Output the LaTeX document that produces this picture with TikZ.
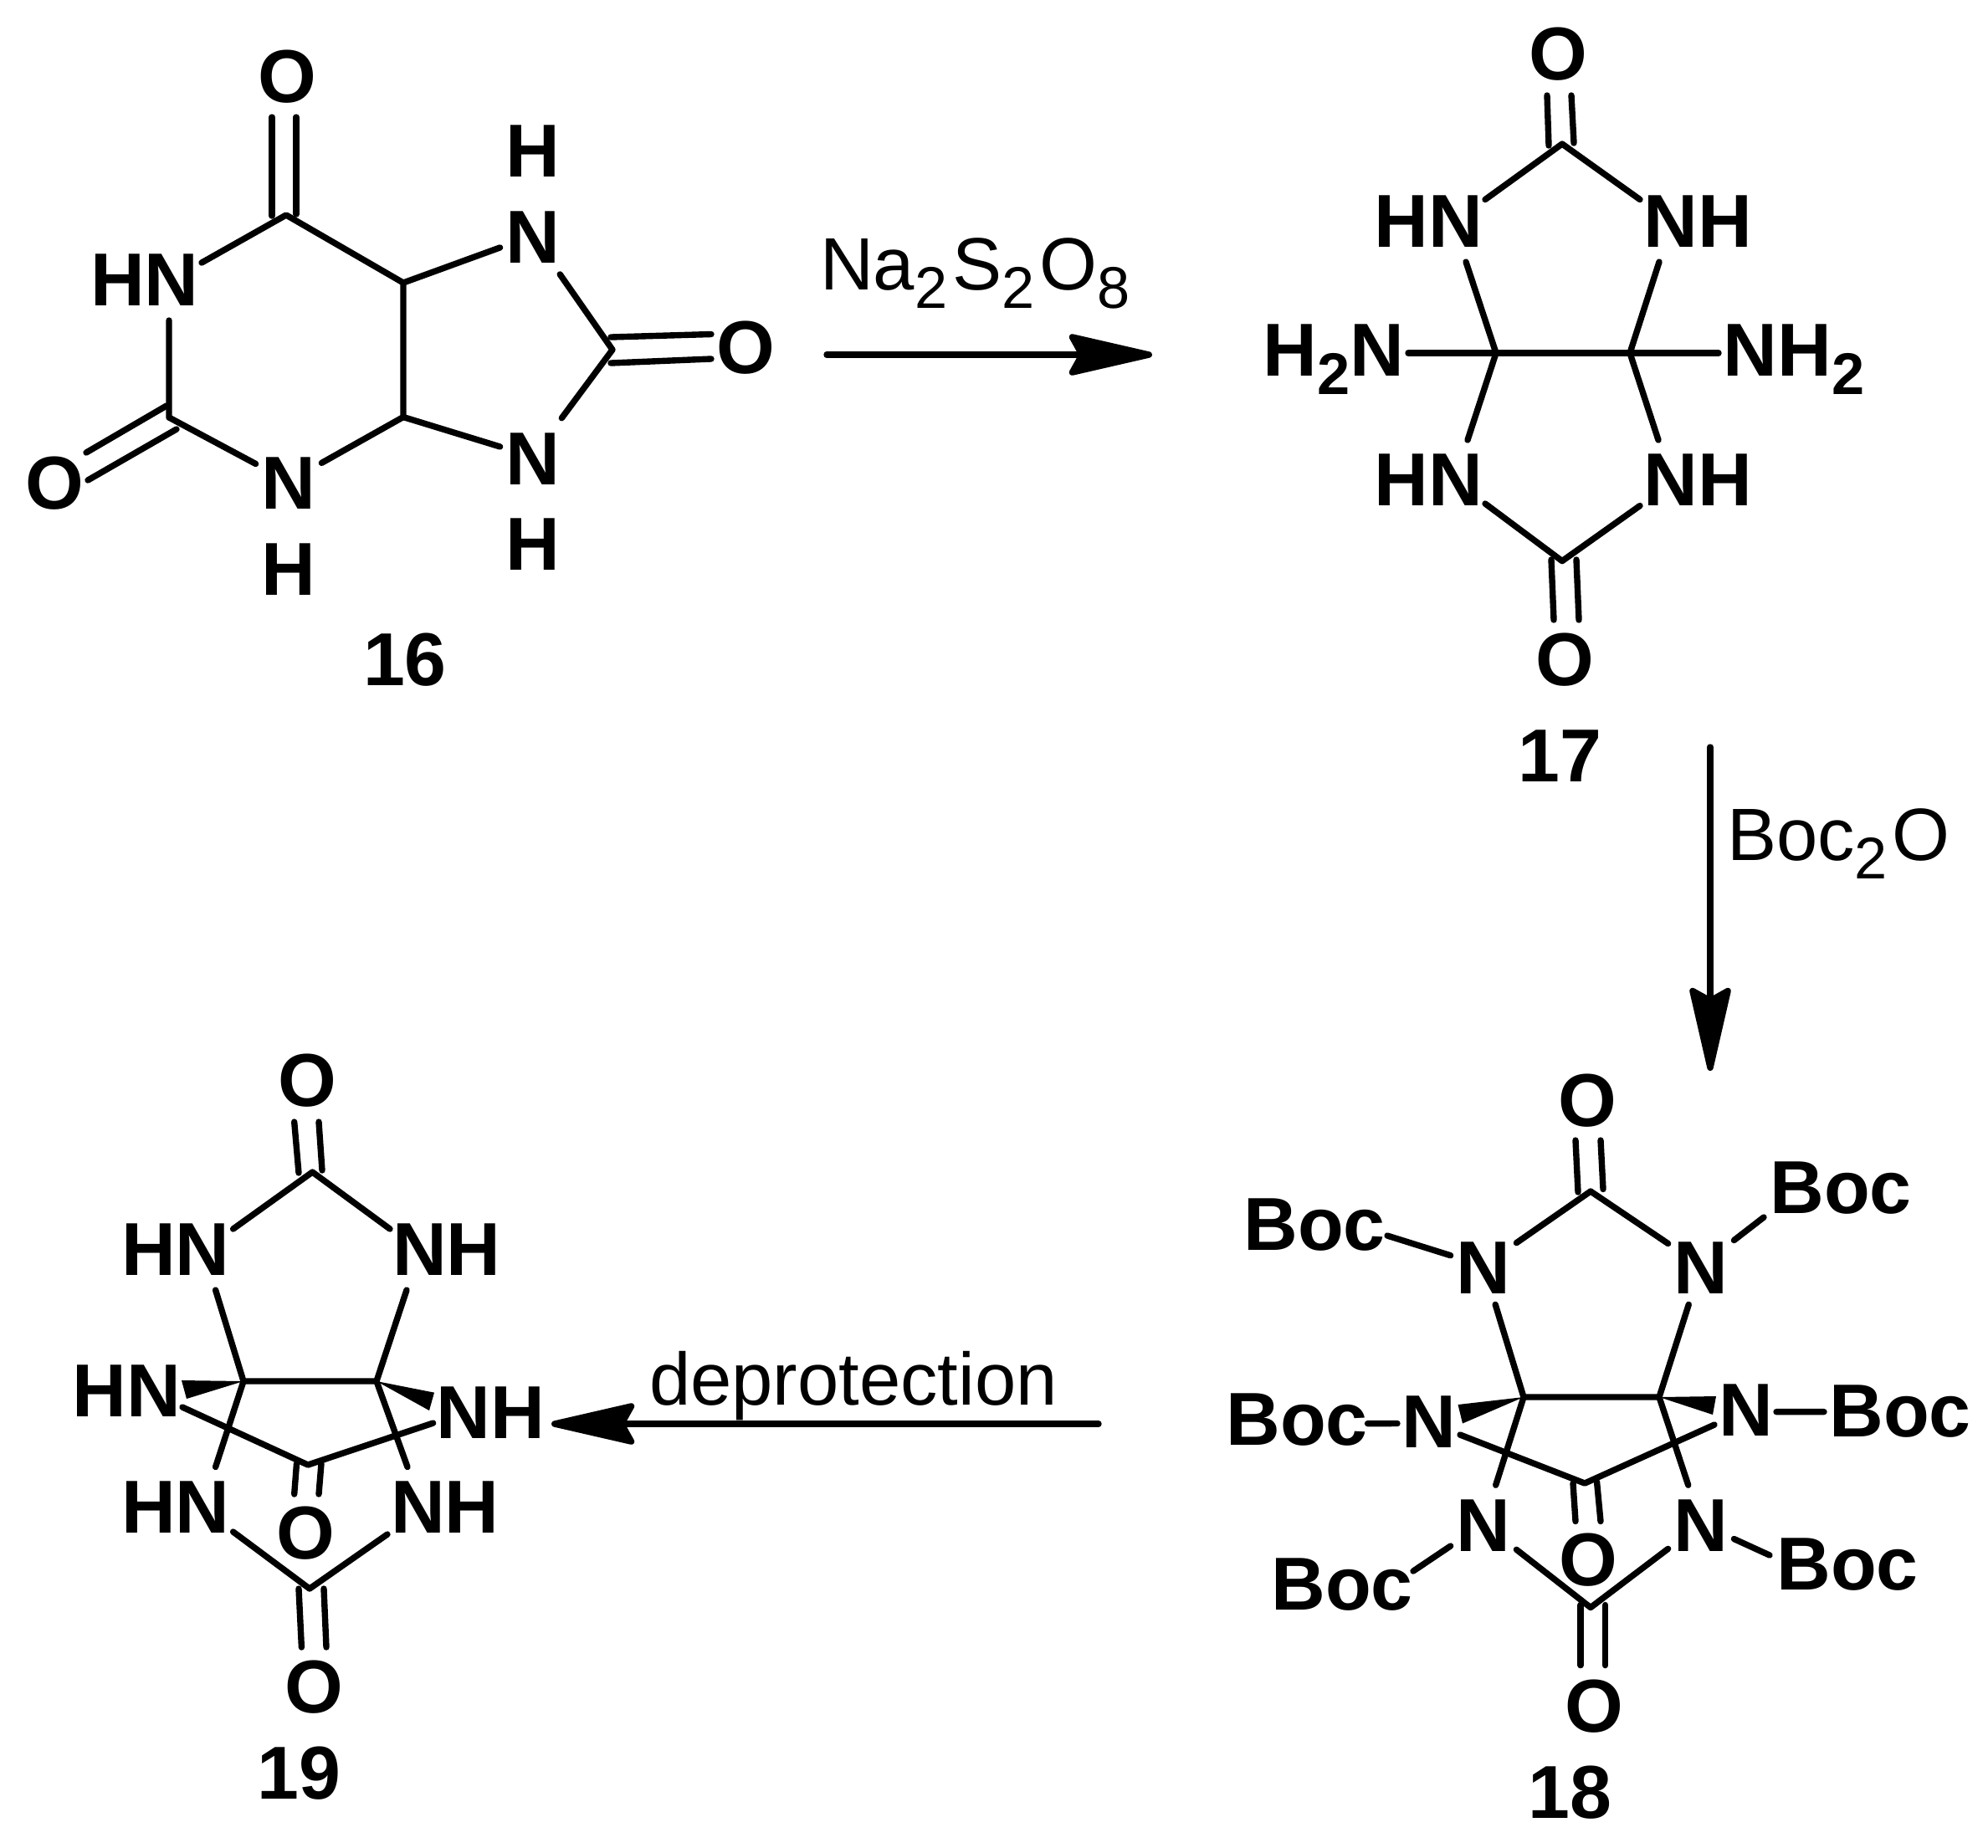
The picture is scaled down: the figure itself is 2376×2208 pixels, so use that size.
\documentclass[tikz,border=0pt]{standalone}
\usepackage{fontspec}
\setmainfont{Liberation Sans}
\usetikzlibrary{arrows.meta}
\newcommand{\subnum}[1]{\raisebox{-.22cm}{\fontsize{20pt}{20pt}\selectfont #1}}
\newcommand{\subreag}[1]{\subnum{#1}\kern.06cm}
\begin{document}
\begin{tikzpicture}[x = .01cm, y = -.01cm, line width = 2.1pt, line cap = round, line join = round]
    \tikzstyle{every node} = [font = \fontsize{25.5pt}{25.5pt}\selectfont\bfseries, text height = .665cm, outer sep = 0pt, inner xsep = .07cm, inner ysep = .13cm];
    \tikzstyle{group} = [anchor = base];
    \tikzstyle{reagent} = [anchor = base west, inner sep = 0pt, font = \fontsize{25.2pt}{25.2pt}\selectfont];
    \tikzstyle{rxn} = [-{Stealth[length = 1.15cm, width = .52cm, inset = .14cm, round]}];
    \useasboundingbox (0,0) rectangle (2376,2208);
    % 16:
    \node (a0) at (343,90){O};
    \node (a1) at (173,332){HN};
    \node (a2) at (65,575.5){O};
    \node (a3) at (345,575.5){N};
    \node (a4) at (345,678.6){H};
    \node (a5) at (637,281.6){N};
    \node (a6) at (637,178.6){H};
    \node (a7) at (637,546){N};
    \node (a8) at (637,648.5){H};
    \node (a9) at (891,414){O};
    \node (a15) at (484,787){16};
    \coordinate (a10) at (342,257);
    \coordinate (a11) at (202,499);
    \coordinate (a12) at (482,498.5);
    \coordinate (a13) at (482,338);
    \coordinate (a14) at (732,418);
    \draw ([shift = {(68,-18)}]a1.center) -- (a10) -- (a13) -- (a12) -- (a3) -- (a11) -- ([shift = {(29,51)}]a1.center);
    \draw (a13) -- (a5) -- (a14) -- (a7) -- (a12);
    \draw ([shift = {(-17,1)}]a10) -- ([shift = {(-18,50)}]a0.center);
    \draw ([shift = {(12,-1)}]a10) -- ([shift = {(11,50)}]a0.center);
    \draw ([shift = {(-3,-14)}]a11) -- ([shift = {(38,-34.5)}]a2.center);
    \draw ([shift = {(9,14)}]a11) -- ([shift = {(40,-1.5)}]a2.center);
    \draw ([shift = {(-2,-15)}]a14) -- ([shift = {(-41,-14.5)}]a9.center);
    \draw ([shift = {(-2,16)}]a14) -- ([shift = {(-41,15)}]a9.center);
    % 17:
    \node (b0) at (1862,63){O};
    \node (b1) at (1707,262){HN};
    \node (b2) at (2029,262){NH};
    \node[group] (b3) at (1594,449){H\subnum{2}N};
    \node[group] (b4) at (2144,449){NH\subnum{2}};
    \node (b5) at (1707,571){HN};
    \node (b6) at (2029,571){NH};
    \node (b7) at (1870,787){O};
    \node (b12) at (1864,901){17};
    \coordinate (b8) at (1867,172);
    \coordinate (b9) at (1788,422);
    \coordinate (b10) at (1948,422);
    \coordinate (b11) at (1867,670.6);
    \draw ([shift = {(68,-23.5)}]b1.center) -- (b8) -- ([shift = {(-69,-23.5)}]b2.center);
    \draw ([shift = {(45,51)}]b1.center) -- (b9) -- ([shift = {(47,-45)}]b5.center);
    \draw ([shift = {(-46,51)}]b2.center) -- (b10) -- ([shift = {(-47,-45)}]b6.center);
    \draw ([shift = {(89,-27)}]b3.base) -- (b9) -- (b10) -- ([shift = {(-90,-27)}]b4.base);
    \draw ([shift = {(68,31)}]b5.center) -- (b11) -- ([shift = {(-69,33.5)}]b6.center);
    \draw ([shift = {(-16,2)}]b8) -- ([shift = {(-13,51)}]b0.center);
    \draw ([shift = {(14,-1)}]b8) -- ([shift = {(16,51)}]b0.center);
    \draw ([shift = {(-13,-1.6)}]b11) -- ([shift = {(-13,-46)}]b7.center);
    \draw ([shift = {(17,-1.6)}]b11) -- ([shift = {(17,-46)}]b7.center);
    % 18:
    \node (c0) at (1897,1314){O};
    \node (c1) at (1773,1513){N};
    \node (c2) at (2033,1513){N};
    \node[group] (c3) at (1571,1494){Boc};
    \node[group] (c4) at (2200,1450){Boc};
    \node (c5) at (1708,1697){N};
    \node[group] (c6) at (1550,1727.6){Boc};
    \node (c7) at (2086.5,1683){N};
    \node[group] (c8) at (2271,1717){Boc};
    \node (c9) at (1898.5,1863){O};
    \node (c10) at (1773,1821.5){N};
    \node (c11) at (2033,1821.5){N};
    \node[group] (c12) at (1604,1924.5){Boc};
    \node[group] (c13) at (2208,1900){Boc};
    \node (c14) at (1905,2038){O};
    \node (c20) at (1876,2141){18};
    \coordinate (c15) at (1901,1424);
    \coordinate (c16) at (1821,1670);
    \coordinate (c17) at (1983,1670);
    \coordinate (c18) at (1894,1773);
    \coordinate (c19) at (1901,1921.5);
    \draw (c1) -- (c15) -- (c2) -- (c17) -- (c16) -- (c1);
    \draw (c16) -- (c10) -- (c19) -- (c11) -- (c17);
    \draw ([shift = {(87,-17)}]c3.base) -- (c1);
    \draw ([shift = {(-92,5)}]c4.base) -- (c2);
    \draw ([shift = {(84.5,-26)}]c6.base) -- ([shift = {(-38,4.5)}]c5.center);
    \draw ([shift = {(36.5,4.6)}]c7.center) -- ([shift = {(-91,-29.4)}]c8.base);
    \draw ([shift = {(85,-46.5)}]c12.base) -- (c10);
    \draw ([shift = {(-93,-41)}]c13.base) -- (c11);
    \draw ([shift = {(37,18)}]c5.center) -- (c18) -- ([shift = {(-37.5,20)}]c7.center);
    \fill (c16) -- ([shift = {(34.5,-18)}]c5.center) -- ([shift = {(40,4.5)}]c5.center) -- cycle;
    \fill (c17) -- ([shift = {(-35.5,-14)}]c7.center) -- ([shift = {(-39.5,8)}]c7.center) -- cycle;
    \draw ([shift = {(-15,1)}]c15) -- ([shift = {(-14,49)}]c0.center);
    \draw ([shift = {(15,-2.5)}]c15) -- ([shift = {(16,49)}]c0.center);
    \draw ([shift = {(-14,0)}]c18) -- ([shift = {(-15.5,-44.5)}]c9.center);
    \draw ([shift = {(14.5,-2)}]c18) -- ([shift = {(14.5,-44.5)}]c9.center);
    \draw ([shift = {(-12,-3)}]c19) -- ([shift = {(-16,-47.4)}]c14.center);
    \draw ([shift = {(17.6,-3)}]c19) -- ([shift = {(13.6,-47.4)}]c14.center);
    % 19:
    \node (d0) at (367.5,1290){O};
    \node (d1) at (210,1491){HN};
    \node (d2) at (534,1491){NH};
    \node (d3) at (151.5,1660.5){HN};
    \node (d4) at (586.5,1686){NH};
    \node (d5) at (365.5,1831){O};
    \node (d6) at (210,1799.5){HN};
    \node (d7) at (532,1799.5){NH};
    \node (d8) at (375.4,2015){O};
    \node (d14) at (357.5,2118){19};
    \coordinate (d9) at (373.4,1401);
    \coordinate (d10) at (291,1651);
    \coordinate (d11) at (450,1651);
    \coordinate (d12) at (368,1751);
    \coordinate (d13) at (370,1899);
    \draw ([shift = {(68.6,-22)}]d1.center) -- (d9) -- ([shift = {(-68,-22)}]d2.center);
    \draw ([shift = {(47.6,51)}]d1.center) -- (d10) -- (d11) -- ([shift = {(-48,51)}]d2.center);
    \draw (d10) -- ([shift = {(47.6,-46)}]d6.center);
    \draw (d11) -- ([shift = {(-45,-46)}]d7.center);
    \draw ([shift = {(66.5,21.5)}]d3.center) -- (d12) -- ([shift = {(-68.8,15)}]d4.center);
    \draw ([shift = {(68.6,31.5)}]d6.center) -- (d13) -- ([shift = {(-69,34.5)}]d7.center);
    \fill (d10) -- ([shift = {(65.5,-10.5)}]d3.center) -- ([shift = {(71.5,11.5)}]d3.center) -- cycle;
    \fill (d11) -- ([shift = {(-67.5,-21.4)}]d4.center) -- ([shift = {(-73.5,0)}]d4.center) -- cycle;
    \draw ([shift = {(-16.4,1)}]d9) -- ([shift = {(-15.8,51)}]d0.center);
    \draw ([shift = {(11.6,-2)}]d9) -- ([shift = {(13.5,51)}]d0.center);
    \draw ([shift = {(-13.5,-1.5)}]d12) -- ([shift = {(-13.8,-45)}]d5.center);
    \draw ([shift = {(16,-1.5)}]d12) -- ([shift = {(15.5,-45)}]d5.center);
    \draw ([shift = {(-13,0)}]d13) -- ([shift = {(-15,-46)}]d8.center);
    \draw ([shift = {(17,0)}]d13) -- ([shift = {(14.6,-46)}]d8.center);
    % arrows:
    \coordinate (r1) at (988,424);
    \coordinate (r2) at (1377,424);
    \coordinate (r3) at (2044,893);
    \coordinate (r4) at (2044,1280);
    \coordinate (r5) at (1313,1702);
    \coordinate (r6) at (659,1702);
    \draw[rxn] (r1) -- (r2);
    \draw[rxn] (r3) -- (r4);
    \draw[rxn] (r5) -- (r6);
    \node[reagent] (t1) at (980,346){Na\subreag{2}S\subreag{2}O\subreag{8}};
    \node[reagent] (t2) at (2064,1028){Boc\subreag{2}O};
    \node[reagent] (t3) at (776,1679){deprotection};
\end{tikzpicture}
\end{document}
